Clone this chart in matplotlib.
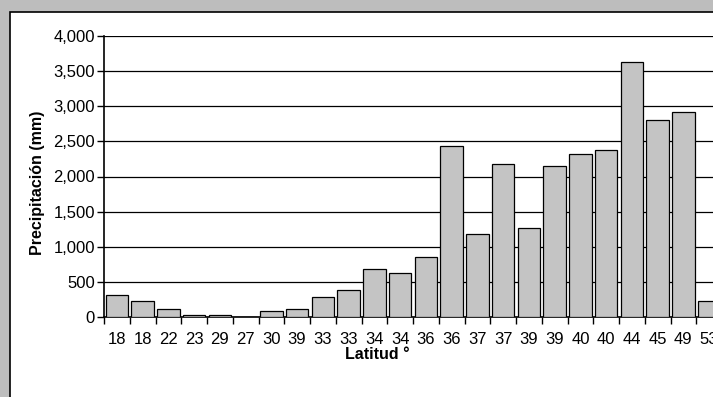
import matplotlib
matplotlib.use("Agg")
import matplotlib.pyplot as plt
from matplotlib.patches import Rectangle
from matplotlib.ticker import FuncFormatter

# Latitude labels (one bar per station) and annual precipitation (mm)
latitudes = ["18", "18", "22", "23", "29", "27", "30", "39", "33", "33",
             "34", "34", "36", "36", "37", "37", "39", "39", "40", "40",
             "44", "45", "49", "53"]
precip_mm = [320, 230, 115, 30, 30, 0, 85, 115, 290, 380,
             690, 630, 860, 2430, 1175, 2175, 1260, 2145, 2315, 2375,
             3635, 2800, 2915, 232]
y_ticks = [0, 500, 1000, 1500, 2000, 2500, 3000, 3500, 4000]

plt.rcParams["font.family"] = ["Liberation Sans", "DejaVu Sans"]

W, H = 713, 397
fig = plt.figure(figsize=(W / 100, H / 100), dpi=100)
fig.patch.set_facecolor("#bdbdbd")

# white panel with black border (top and left edges visible)
fig.patches.append(Rectangle((10 / W, -0.2), 1.3, 1.2 - 12 / H,
                             transform=fig.transFigure, facecolor="white",
                             edgecolor="black", linewidth=1.2, zorder=-10))

left, right, top, bottom = 104, 722, 36, 317
ax = fig.add_axes([left / W, 1 - bottom / H, (right - left) / W, (bottom - top) / H])
ax.set_zorder(1)
ax.set_facecolor("white")

x = list(range(len(latitudes)))
ax.bar(x, precip_mm, width=0.87, color="#c4c4c4", edgecolor="black",
       linewidth=0.9, zorder=3)

ax.set_xlim(-0.5, len(latitudes) - 0.5)
ax.set_ylim(0, 4000)
ax.set_yticks(y_ticks)
ax.yaxis.set_major_formatter(FuncFormatter(lambda v, p: f"{int(v):,}"))
ax.yaxis.grid(True, color="black", linewidth=0.9, zorder=0)
ax.set_axisbelow(True)

ax.set_xticks(x)
ax.set_xticklabels(latitudes)
ax.set_xticks([i - 0.5 for i in range(len(latitudes) + 1)], minor=True)
ax.tick_params(axis="x", which="major", length=0, labelsize=12, pad=11)
ax.tick_params(axis="x", which="minor", length=5, width=1, color="black")
ax.tick_params(axis="y", length=5, width=1, labelsize=12, pad=1.5)

for s in ["top", "right"]:
    ax.spines[s].set_visible(False)
for s in ["left", "bottom"]:
    ax.spines[s].set_linewidth(1.2)
    ax.spines[s].set_color("black")

ax.set_ylabel("Precipitación (mm)", fontsize=11.5, fontweight="bold")
ax.yaxis.set_label_coords((45 - left) / (right - left), (bottom - 183) / (bottom - top))
ax.set_xlabel("Latitud °", fontsize=11.5, fontweight="bold")
ax.xaxis.set_label_coords((377 - left) / (right - left), -(347 - bottom) / (bottom - top))

fig.savefig("out.png", dpi=100, facecolor=fig.get_facecolor())
